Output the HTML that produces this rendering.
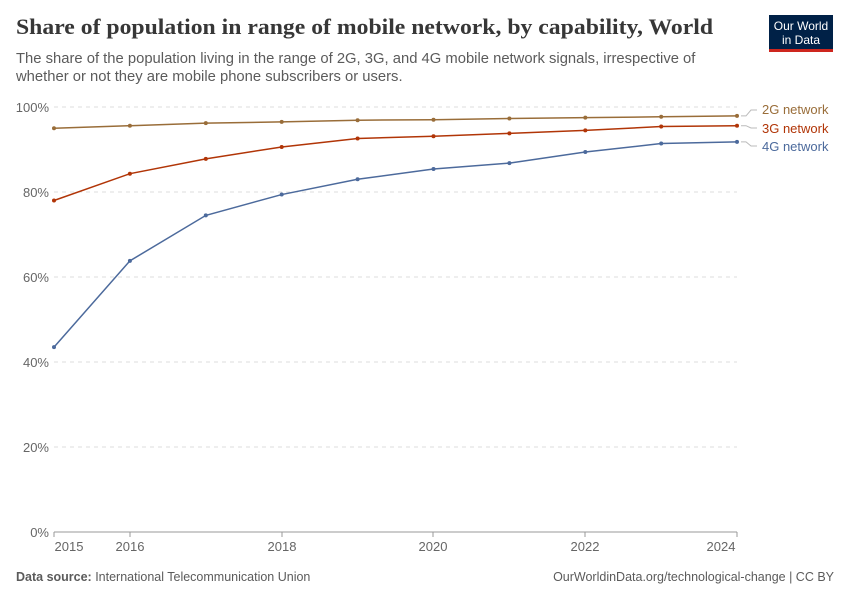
<!DOCTYPE html>
<html><head><meta charset="utf-8"><style>
body{margin:0;background:#fff;width:850px;height:600px;overflow:hidden;font-family:"Liberation Sans",sans-serif}
</style></head><body>
<svg width="850" height="600" xmlns="http://www.w3.org/2000/svg" font-family="Liberation Sans, sans-serif">
<text x="16" y="34" font-family="Liberation Serif, serif" font-weight="bold" font-size="22" fill="#373737" textLength="697" lengthAdjust="spacingAndGlyphs">Share of population in range of mobile network, by capability, World</text>
<text x="16" y="63" font-size="14.8" fill="#5b5b5b">The share of the population living in the range of 2G, 3G, and 4G mobile network signals, irrespective of</text>
<text x="16" y="81" font-size="14.8" fill="#5b5b5b">whether or not they are mobile phone subscribers or users.</text>
<rect x="769" y="15" width="64" height="35" fill="#002147"/>
<rect x="769" y="49" width="64" height="3" fill="#ce261e"/>
<text x="801" y="30" font-size="12" fill="#fff" text-anchor="middle">Our World</text>
<text x="801" y="44" font-size="12" fill="#fff" text-anchor="middle">in Data</text>
<g stroke="#ddd" stroke-dasharray="4,4" stroke-width="1">
<line x1="54" x2="737" y1="107" y2="107"/><line x1="54" x2="737" y1="192" y2="192"/>
<line x1="54" x2="737" y1="277" y2="277"/><line x1="54" x2="737" y1="362" y2="362"/>
<line x1="54" x2="737" y1="447" y2="447"/>
</g>
<line x1="54" x2="737" y1="532" y2="532" stroke="#999"/>
<g font-size="13" fill="#666" text-anchor="end">
<text x="49" y="112">100%</text><text x="49" y="197">80%</text><text x="49" y="282">60%</text>
<text x="49" y="367">40%</text><text x="49" y="452">20%</text><text x="49" y="537">0%</text>
</g>
<g font-size="13" fill="#666" text-anchor="middle">
<text x="69" y="551">2015</text><text x="130" y="551">2016</text><text x="282" y="551">2018</text>
<text x="433" y="551">2020</text><text x="585" y="551">2022</text><text x="721" y="551">2024</text>
</g>
<g stroke="#999"><line x1="54" x2="54" y1="532" y2="537"/><line x1="130" x2="130" y1="532" y2="537"/><line x1="282" x2="282" y1="532" y2="537"/><line x1="433" x2="433" y1="532" y2="537"/><line x1="585" x2="585" y1="532" y2="537"/><line x1="737" x2="737" y1="532" y2="537"/></g>
<g fill="none" stroke-width="1.5">
<polyline stroke="#996d39" points="54,128.25 129.9,125.7 205.8,123.15 281.7,121.9 357.6,120.2 433.5,119.75 509.4,118.5 585.3,117.6 661.2,116.8 737,115.9"/>
<polyline stroke="#b13507" points="54,200.5 129.9,173.7 205.8,158.85 281.7,146.95 357.6,138.45 433.5,136.3 509.4,133.35 585.3,130.4 661.2,126.55 737,125.7"/>
<polyline stroke="#4c6a9c" points="54,347.1 129.9,260.85 205.8,215.4 281.7,194.55 357.6,179.25 433.5,169.05 509.4,163.1 585.3,152.05 661.2,143.55 737,141.85"/>
</g>
<g fill="#996d39"><circle cx="54" cy="128.25" r="2"/><circle cx="129.9" cy="125.7" r="2"/><circle cx="205.8" cy="123.15" r="2"/><circle cx="281.7" cy="121.9" r="2"/><circle cx="357.6" cy="120.2" r="2"/><circle cx="433.5" cy="119.75" r="2"/><circle cx="509.4" cy="118.5" r="2"/><circle cx="585.3" cy="117.6" r="2"/><circle cx="661.2" cy="116.8" r="2"/><circle cx="737" cy="115.9" r="2"/></g>
<g fill="#b13507"><circle cx="54" cy="200.5" r="2"/><circle cx="129.9" cy="173.7" r="2"/><circle cx="205.8" cy="158.85" r="2"/><circle cx="281.7" cy="146.95" r="2"/><circle cx="357.6" cy="138.45" r="2"/><circle cx="433.5" cy="136.3" r="2"/><circle cx="509.4" cy="133.35" r="2"/><circle cx="585.3" cy="130.4" r="2"/><circle cx="661.2" cy="126.55" r="2"/><circle cx="737" cy="125.7" r="2"/></g>
<g fill="#4c6a9c"><circle cx="54" cy="347.1" r="2"/><circle cx="129.9" cy="260.85" r="2"/><circle cx="205.8" cy="215.4" r="2"/><circle cx="281.7" cy="194.55" r="2"/><circle cx="357.6" cy="179.25" r="2"/><circle cx="433.5" cy="169.05" r="2"/><circle cx="509.4" cy="163.1" r="2"/><circle cx="585.3" cy="152.05" r="2"/><circle cx="661.2" cy="143.55" r="2"/><circle cx="737" cy="141.85" r="2"/></g>
<g fill="none" stroke="#bbb"><polyline points="741,115.9 746,115.9 751,110 757,110"/><polyline points="741,125.7 746,125.7 751,128 757,128"/><polyline points="741,141.85 746,141.85 751,146 757,146"/></g>
<g font-size="13"><text x="762" y="114" fill="#996d39">2G network</text><text x="762" y="133" fill="#b13507">3G network</text><text x="762" y="151" fill="#4c6a9c">4G network</text></g>
<text x="16" y="581" font-size="12.5" fill="#5b5b5b"><tspan font-weight="bold">Data source:</tspan> International Telecommunication Union</text>
<text x="834" y="581" font-size="12.5" fill="#5b5b5b" text-anchor="end">OurWorldinData.org/technological-change | CC BY</text>
</svg>
</body></html>
